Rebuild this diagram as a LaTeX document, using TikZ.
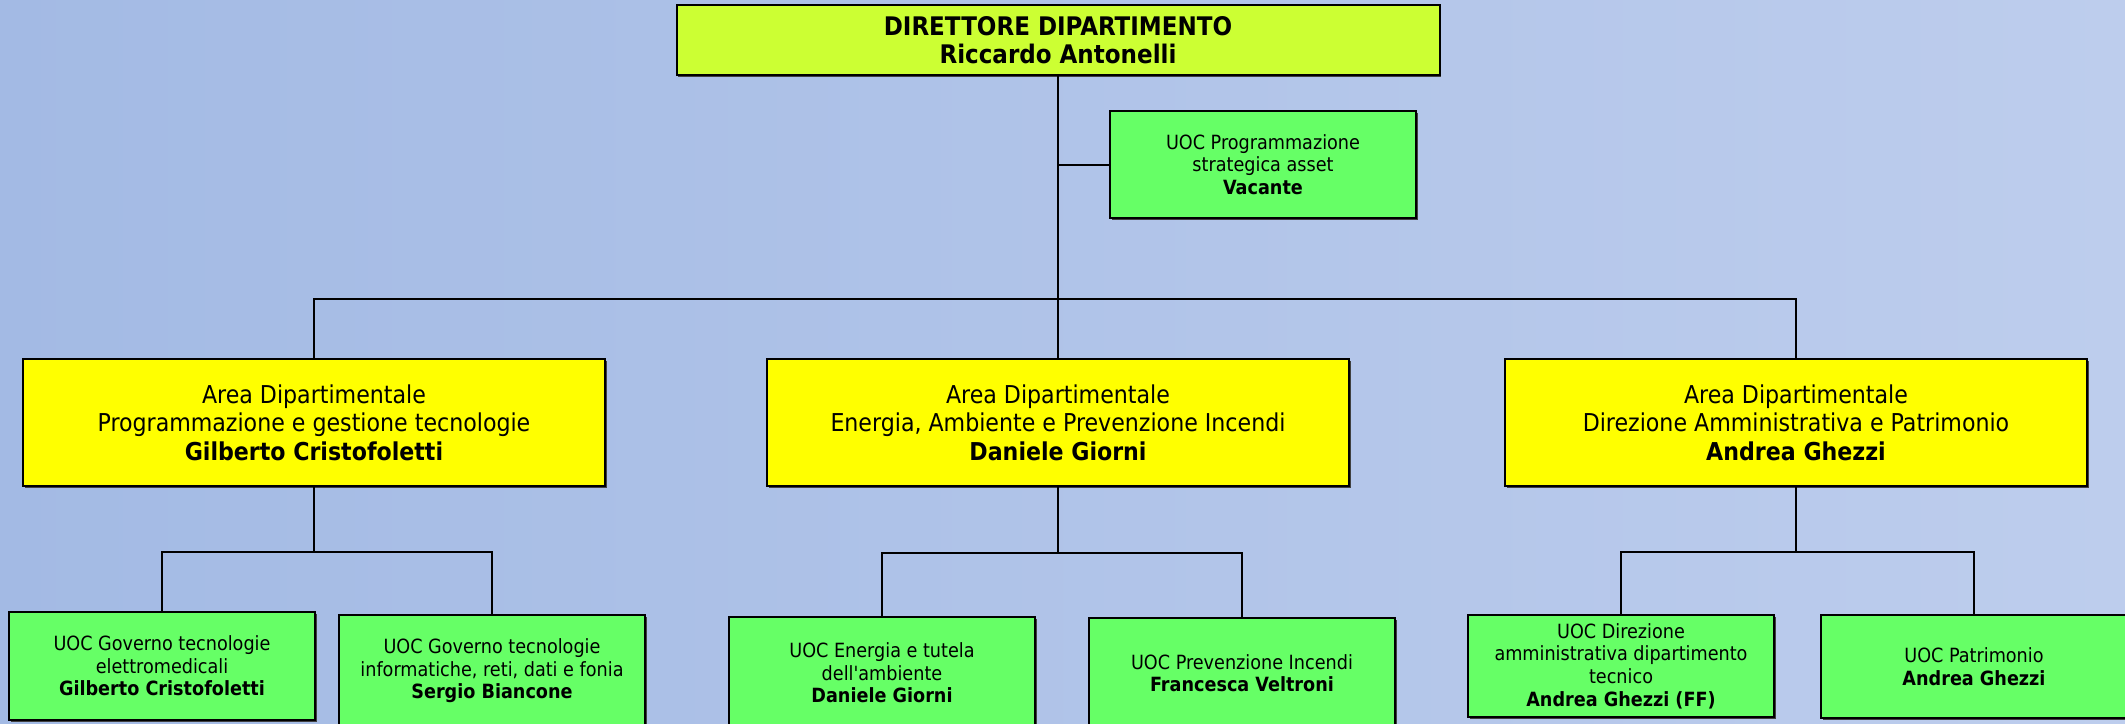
\documentclass[tikz,border=0pt]{standalone}
\usepackage{fontspec}
\setmainfont{DejaVu Sans Condensed}
\usetikzlibrary{shadows}
\definecolor{bgleft}{HTML}{A3BAE4}
\definecolor{bgright}{HTML}{BDCDED}
\definecolor{topfill}{HTML}{CCFF33}
\definecolor{areafill}{HTML}{FFFF00}
\definecolor{uocfill}{HTML}{66FF66}
\tikzset{
  box/.style={draw=black, line width=1pt, rectangle, align=center, inner sep=0pt,
    drop shadow={shadow xshift=0.9pt, shadow yshift=-0.9pt, fill=black!75, opacity=1}},
  topbox/.style={box, fill=topfill, minimum width=381.5pt, minimum height=35pt,
    font=\fontsize{12.8}{14}\selectfont\bfseries},
  areabox/.style={box, fill=areafill, minimum width=291pt, minimum height=63.5pt,
    font=\fontsize{12.3}{14.3}\selectfont},
  uocbox/.style={box, fill=uocfill, minimum width=153pt,
    font=\fontsize{9.8}{11.3}\selectfont},
  link/.style={draw=black, line width=1pt}
}
\begin{document}
\begin{tikzpicture}[x=0.5pt,y=-0.5pt]
\useasboundingbox (0,0) rectangle (2125,723);
\shade[left color=bgleft, right color=bgright] (0,0) rectangle (2125,723);

\node[topbox] (top) at (1058,40) {DIRETTORE DIPARTIMENTO\\Riccardo Antonelli};
\node[uocbox, minimum height=53.5pt] (vac) at (1263,164.5) {UOC Programmazione\\strategica asset\\\textbf{Vacante}};

\node[areabox] (a1) at (314,422.5) {Area Dipartimentale\\Programmazione e gestione tecnologie\\\textbf{Gilberto Cristofoletti}};
\node[areabox] (a2) at (1058,422.5) {Area Dipartimentale\\Energia, Ambiente e Prevenzione Incendi\\\textbf{Daniele Giorni}};
\node[areabox] (a3) at (1796,422.5) {Area Dipartimentale\\Direzione Amministrativa e Patrimonio\\\textbf{Andrea Ghezzi}};

\node[uocbox, minimum height=54pt] (c1) at (162,666) {UOC Governo tecnologie\\elettromedicali\\\textbf{Gilberto Cristofoletti}};
\node[uocbox, minimum height=56pt] (c2) at (492,671) {UOC Governo tecnologie\\informatiche, reti, dati e fonia\\\textbf{Sergio Biancone}};
\node[uocbox, minimum height=56pt] (c3) at (882,673) {UOC Energia e tutela\\dell\textquotesingle ambiente\\\textbf{Daniele Giorni}};
\node[uocbox, minimum height=55pt] (c4) at (1242,673) {UOC Prevenzione Incendi\\\textbf{Francesca Veltroni}};
\node[uocbox, minimum height=51pt] (c5) at (1621,666) {UOC Direzione\\amministrativa dipartimento\\tecnico\\\textbf{Andrea Ghezzi (FF)}};
\node[uocbox, minimum height=51.5pt] (c6) at (1974,666.5) {UOC Patrimonio\\\textbf{Andrea Ghezzi}};

\coordinate (hub) at (1058,298.5);
\draw[link] (top.south) -- (a2.north);
\draw[link] (top.south |- vac.west) -- (vac.west);
\draw[link] (hub) -| (a1.north);
\draw[link] (hub) -| (a3.north);

\draw[link] (a1.south) -- ++(0,65) -| (c1.north);
\draw[link] (a1.south) -- ++(0,65) -| (c2.north);
\draw[link] (a2.south) -- ++(0,66) -| (c3.north);
\draw[link] (a2.south) -- ++(0,66) -| (c4.north);
\draw[link] (a3.south) -- ++(0,65) -| (c5.north);
\draw[link] (a3.south) -- ++(0,65) -| (c6.north);
\end{tikzpicture}
\end{document}
